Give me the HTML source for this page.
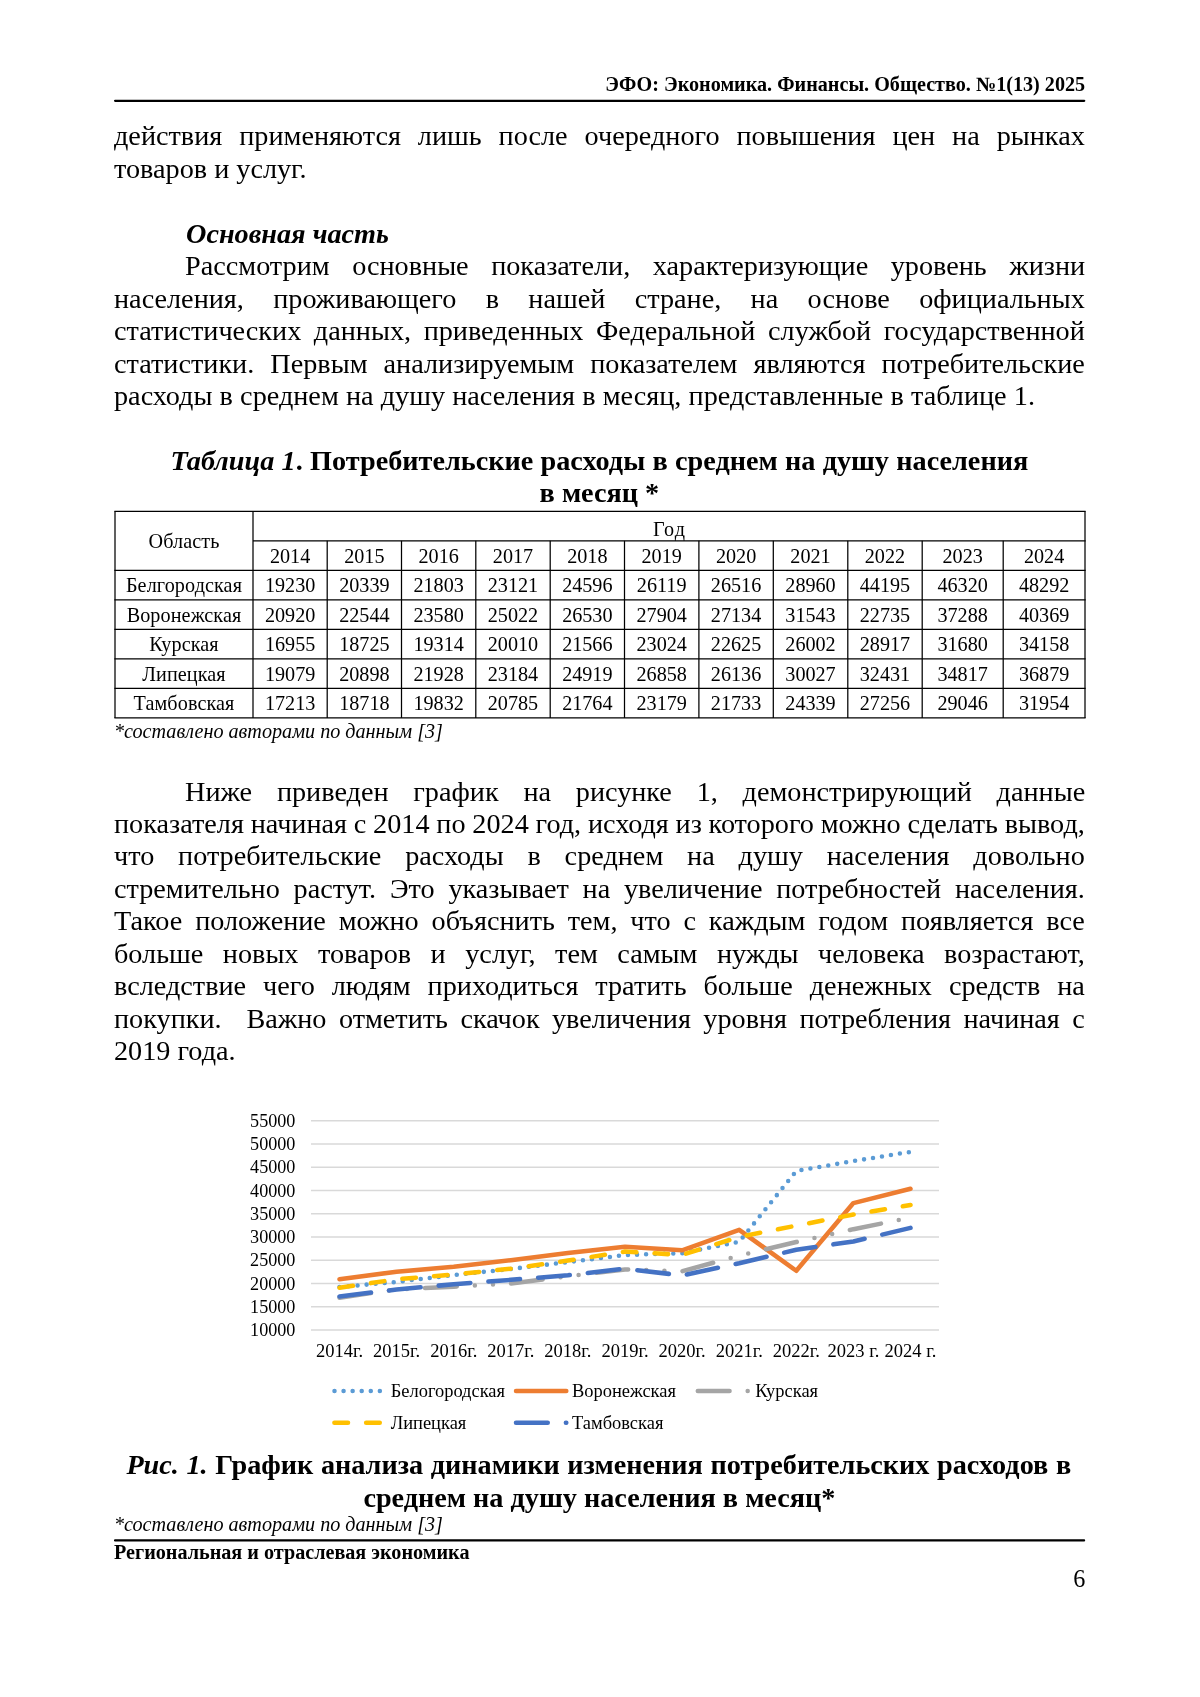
<!DOCTYPE html>
<html lang="ru"><head><meta charset="utf-8"><title>page</title>
<style>
html,body{margin:0;padding:0;background:#fff;}
body{width:1200px;height:1697px;position:relative;overflow:hidden;font-family:"Liberation Serif",serif;color:#000;}
.ln{position:absolute;white-space:nowrap;line-height:34px;height:34px;will-change:transform;}
.j{white-space:pre;}
.rule{position:absolute;background:#000;}
table{position:absolute;border-collapse:collapse;table-layout:fixed;will-change:transform;}
td{border:0;padding:1.2px 0 0 0;text-align:center;font-size:20.16px;line-height:22px;vertical-align:middle;overflow:hidden;white-space:nowrap;}
svg{position:absolute;left:0;top:0;will-change:transform;}
svg text{font-family:"Liberation Serif",serif;}
</style></head><body>
<div class="ln " style="top:67.20px;left:114.00px;width:971.20px;font-size:20.16px;text-align:right;font-weight:bold;">ЭФО: Экономика. Финансы. Общество. №1(13) 2025</div>
<div class="ln j" style="top:119.48px;left:114.00px;width:970.80px;font-size:28.22px;word-spacing:9.916px;">действия применяются лишь после очередного повышения цен на рынках</div>
<div class="ln " style="top:151.93px;left:114.00px;width:970.80px;font-size:28.22px;">товаров и услуг.</div>
<div class="ln " style="top:216.83px;left:186.10px;width:898.70px;font-size:28.22px;font-weight:bold;font-style:italic;">Основная часть</div>
<div class="ln j" style="top:249.28px;left:184.60px;width:900.20px;font-size:28.22px;word-spacing:15.493px;">Рассмотрим основные показатели, характеризующие уровень жизни</div>
<div class="ln j" style="top:281.73px;left:114.00px;width:970.80px;font-size:28.22px;word-spacing:22.324px;">населения, проживающего в нашей стране, на основе официальных</div>
<div class="ln j" style="top:314.18px;left:114.00px;width:970.80px;font-size:28.22px;word-spacing:5.532px;">статистических данных, приведенных Федеральной службой государственной</div>
<div class="ln j" style="top:346.63px;left:114.00px;width:970.80px;font-size:28.22px;word-spacing:9.035px;">статистики. Первым анализируемым показателем являются потребительские</div>
<div class="ln " style="top:379.08px;left:114.00px;width:970.80px;font-size:28.22px;word-spacing:0.12px;">расходы в среднем на душу населения в месяц, представленные в таблице 1.</div>
<div class="ln " style="top:443.98px;left:114.00px;width:970.80px;font-size:28.22px;text-align:center;font-weight:bold;word-spacing:0.25px;"><i>Таблица 1</i>. Потребительские расходы в среднем на душу населения</div>
<div class="ln " style="top:476.43px;left:114.00px;width:970.80px;font-size:28.22px;text-align:center;font-weight:bold;">в месяц *</div>
<table style="left:115.0px;top:511.3px;width:970.0px"><colgroup><col style="width:138.00px"><col style="width:74.20px"><col style="width:74.30px"><col style="width:74.30px"><col style="width:74.40px"><col style="width:74.30px"><col style="width:74.40px"><col style="width:74.40px"><col style="width:74.50px"><col style="width:74.40px"><col style="width:81.00px"><col style="width:81.80px"></colgroup>
<tr style="height:29.51px"><td rowspan="2" style="letter-spacing:0.1px">Область</td><td colspan="11"><span style="position:relative;top:3.1px;letter-spacing:1.3px;margin-right:-1.3px">Год</span></td></tr>
<tr style="height:29.51px"><td>2014</td><td>2015</td><td>2016</td><td>2017</td><td>2018</td><td>2019</td><td>2020</td><td>2021</td><td>2022</td><td>2023</td><td>2024</td></tr>
<tr style="height:29.51px"><td style="letter-spacing:0.1px">Белгородская</td><td>19230</td><td>20339</td><td>21803</td><td>23121</td><td>24596</td><td>26119</td><td>26516</td><td>28960</td><td>44195</td><td>46320</td><td>48292</td></tr>
<tr style="height:29.51px"><td style="letter-spacing:0.1px">Воронежская</td><td>20920</td><td>22544</td><td>23580</td><td>25022</td><td>26530</td><td>27904</td><td>27134</td><td>31543</td><td>22735</td><td>37288</td><td>40369</td></tr>
<tr style="height:29.51px"><td style="letter-spacing:0.1px">Курская</td><td>16955</td><td>18725</td><td>19314</td><td>20010</td><td>21566</td><td>23024</td><td>22625</td><td>26002</td><td>28917</td><td>31680</td><td>34158</td></tr>
<tr style="height:29.51px"><td style="letter-spacing:0.1px">Липецкая</td><td>19079</td><td>20898</td><td>21928</td><td>23184</td><td>24919</td><td>26858</td><td>26136</td><td>30027</td><td>32431</td><td>34817</td><td>36879</td></tr>
<tr style="height:29.51px"><td style="letter-spacing:0.1px">Тамбовская</td><td>17213</td><td>18718</td><td>19832</td><td>20785</td><td>21764</td><td>23179</td><td>21733</td><td>24339</td><td>27256</td><td>29046</td><td>31954</td></tr>
</table>
<div class="ln " style="top:714.20px;left:114.00px;width:970.80px;font-size:20.16px;font-style:italic;">*составлено авторами по данным [3]</div>
<div class="ln j" style="top:774.58px;left:184.60px;width:900.20px;font-size:28.22px;word-spacing:17.725px;">Ниже приведен график на рисунке 1, демонстрирующий данные</div>
<div class="ln j" style="top:807.03px;left:114.00px;width:970.80px;font-size:28.22px;word-spacing:-0.280px;">показателя начиная с 2014 по 2024 год, исходя из которого можно сделать вывод,</div>
<div class="ln j" style="top:839.48px;left:114.00px;width:970.80px;font-size:28.22px;word-spacing:16.774px;">что потребительские расходы в среднем на душу населения довольно</div>
<div class="ln j" style="top:871.93px;left:114.00px;width:970.80px;font-size:28.22px;word-spacing:6.748px;">стремительно растут. Это указывает на увеличение потребностей населения.</div>
<div class="ln j" style="top:904.38px;left:114.00px;width:970.80px;font-size:28.22px;word-spacing:5.808px;">Такое положение можно объяснить тем, что с каждым годом появляется все</div>
<div class="ln j" style="top:936.83px;left:114.00px;width:970.80px;font-size:28.22px;word-spacing:12.486px;">больше новых товаров и услуг, тем самым нужды человека возрастают,</div>
<div class="ln j" style="top:969.28px;left:114.00px;width:970.80px;font-size:28.22px;word-spacing:9.901px;">вследствие чего людям приходиться тратить больше денежных средств на</div>
<div class="ln j" style="top:1001.73px;left:114.00px;width:970.80px;font-size:28.22px;word-spacing:5.358px;">покупки.&nbsp; Важно отметить скачок увеличения уровня потребления начиная с</div>
<div class="ln " style="top:1034.18px;left:114.00px;width:970.80px;font-size:28.22px;">2019 года.</div>
<svg width="1200" height="1697" viewBox="0 0 1200 1697">
<g stroke="#000" stroke-width="1.25"><line x1="114.38" x2="1085.62" y1="511.30" y2="511.30"/><line x1="253.00" x2="1085.62" y1="540.81" y2="540.81"/><line x1="114.38" x2="1085.62" y1="570.33" y2="570.33"/><line x1="114.38" x2="1085.62" y1="599.84" y2="599.84"/><line x1="114.38" x2="1085.62" y1="629.36" y2="629.36"/><line x1="114.38" x2="1085.62" y1="658.87" y2="658.87"/><line x1="114.38" x2="1085.62" y1="688.38" y2="688.38"/><line x1="114.38" x2="1085.62" y1="717.90" y2="717.90"/><line x1="115.00" x2="115.00" y1="511.30" y2="717.90"/><line x1="253.00" x2="253.00" y1="511.30" y2="717.90"/><line x1="327.20" x2="327.20" y1="540.81" y2="717.90"/><line x1="401.50" x2="401.50" y1="540.81" y2="717.90"/><line x1="475.80" x2="475.80" y1="540.81" y2="717.90"/><line x1="550.20" x2="550.20" y1="540.81" y2="717.90"/><line x1="624.50" x2="624.50" y1="540.81" y2="717.90"/><line x1="698.90" x2="698.90" y1="540.81" y2="717.90"/><line x1="773.30" x2="773.30" y1="540.81" y2="717.90"/><line x1="847.80" x2="847.80" y1="540.81" y2="717.90"/><line x1="922.20" x2="922.20" y1="540.81" y2="717.90"/><line x1="1003.20" x2="1003.20" y1="540.81" y2="717.90"/><line x1="1085.00" x2="1085.00" y1="511.30" y2="717.90"/></g>
<g stroke="#000" stroke-width="2.3" stroke-linecap="round"><line x1="115.1" x2="1084.2" y1="100.8" y2="100.8"/><line x1="115.1" x2="1084.05" y1="1540.4" y2="1540.4"/></g>
<line x1="311" x2="939" y1="1330.00" y2="1330.00" stroke="#d9d9d9" stroke-width="1.5"/>
<text x="295.4" y="1336.20" font-size="18.14" text-anchor="end">10000</text>
<line x1="311" x2="939" y1="1306.74" y2="1306.74" stroke="#d9d9d9" stroke-width="1.5"/>
<text x="295.4" y="1312.94" font-size="18.14" text-anchor="end">15000</text>
<line x1="311" x2="939" y1="1283.49" y2="1283.49" stroke="#d9d9d9" stroke-width="1.5"/>
<text x="295.4" y="1289.69" font-size="18.14" text-anchor="end">20000</text>
<line x1="311" x2="939" y1="1260.23" y2="1260.23" stroke="#d9d9d9" stroke-width="1.5"/>
<text x="295.4" y="1266.43" font-size="18.14" text-anchor="end">25000</text>
<line x1="311" x2="939" y1="1236.98" y2="1236.98" stroke="#d9d9d9" stroke-width="1.5"/>
<text x="295.4" y="1243.18" font-size="18.14" text-anchor="end">30000</text>
<line x1="311" x2="939" y1="1213.72" y2="1213.72" stroke="#d9d9d9" stroke-width="1.5"/>
<text x="295.4" y="1219.92" font-size="18.14" text-anchor="end">35000</text>
<line x1="311" x2="939" y1="1190.47" y2="1190.47" stroke="#d9d9d9" stroke-width="1.5"/>
<text x="295.4" y="1196.67" font-size="18.14" text-anchor="end">40000</text>
<line x1="311" x2="939" y1="1167.21" y2="1167.21" stroke="#d9d9d9" stroke-width="1.5"/>
<text x="295.4" y="1173.41" font-size="18.14" text-anchor="end">45000</text>
<line x1="311" x2="939" y1="1143.96" y2="1143.96" stroke="#d9d9d9" stroke-width="1.5"/>
<text x="295.4" y="1150.16" font-size="18.14" text-anchor="end">50000</text>
<line x1="311" x2="939" y1="1120.70" y2="1120.70" stroke="#d9d9d9" stroke-width="1.5"/>
<text x="295.4" y="1126.90" font-size="18.14" text-anchor="end">55000</text>
<text x="339.50" y="1357.3" font-size="18.5" text-anchor="middle">2014г.</text>
<text x="396.60" y="1357.3" font-size="18.5" text-anchor="middle">2015г.</text>
<text x="453.70" y="1357.3" font-size="18.5" text-anchor="middle">2016г.</text>
<text x="510.80" y="1357.3" font-size="18.5" text-anchor="middle">2017г.</text>
<text x="567.90" y="1357.3" font-size="18.5" text-anchor="middle">2018г.</text>
<text x="625.00" y="1357.3" font-size="18.5" text-anchor="middle">2019г.</text>
<text x="682.10" y="1357.3" font-size="18.5" text-anchor="middle">2020г.</text>
<text x="739.20" y="1357.3" font-size="18.5" text-anchor="middle">2021г.</text>
<text x="796.30" y="1357.3" font-size="18.5" text-anchor="middle">2022г.</text>
<text x="853.40" y="1357.3" font-size="18.5" text-anchor="middle">2023 г.</text>
<text x="910.50" y="1357.3" font-size="18.5" text-anchor="middle">2024 г.</text>
<polyline points="339.50,1287.07 396.60,1281.91 453.70,1275.10 510.80,1268.97 567.90,1262.11 625.00,1255.03 682.10,1253.18 739.20,1241.82 796.30,1170.96 853.40,1161.07 910.50,1151.90" fill="none" stroke="#5b9bd5" stroke-width="4.5355" stroke-linecap="round" stroke-linejoin="round" stroke-dasharray="0 9.071"/>
<polyline points="339.50,1279.21 396.60,1271.66 453.70,1266.84 510.80,1260.13 567.90,1253.12 625.00,1246.73 682.10,1250.31 739.20,1229.80 796.30,1270.77 853.40,1203.08 910.50,1188.75" fill="none" stroke="#ed7d31" stroke-width="4.5355" stroke-linecap="round" stroke-linejoin="round"/>
<polyline points="339.50,1297.65 396.60,1289.42 453.70,1286.68 510.80,1283.44 567.90,1276.21 625.00,1269.42 682.10,1271.28 739.20,1255.57 796.30,1242.02 853.40,1229.16 910.50,1217.64" fill="none" stroke="#a5a5a5" stroke-width="4.5355" stroke-linecap="round" stroke-linejoin="round" stroke-dasharray="31.7485 18.142 0 18.142 0 18.142"/>
<polyline points="339.50,1287.77 396.60,1279.31 453.70,1274.52 510.80,1268.68 567.90,1260.61 625.00,1251.59 682.10,1254.95 739.20,1236.85 796.30,1225.67 853.40,1214.57 910.50,1204.98" fill="none" stroke="#ffc000" stroke-width="4.5355" stroke-linecap="round" stroke-linejoin="round" stroke-dasharray="13.6065 18.142"/>
<polyline points="339.50,1296.45 396.60,1289.45 453.70,1284.27 510.80,1279.84 567.90,1275.28 625.00,1268.70 682.10,1275.43 739.20,1263.31 796.30,1249.74 853.40,1241.42 910.50,1227.89" fill="none" stroke="#4472c4" stroke-width="4.5355" stroke-linecap="round" stroke-linejoin="round" stroke-dasharray="31.7485 18.142"/>
<line x1="334.5" x2="384.8" y1="1390.9" y2="1390.9" stroke="#5b9bd5" stroke-width="4.5355" stroke-linecap="round" stroke-dasharray="0 9.071"/>
<text x="390.7" y="1397.10" font-size="18.45">Белогородская</text>
<line x1="516" x2="566.3" y1="1390.9" y2="1390.9" stroke="#ed7d31" stroke-width="4.5355" stroke-linecap="round"/>
<text x="572.0" y="1397.10" font-size="18.45">Воронежская</text>
<line x1="697.8" x2="748.0999999999999" y1="1390.9" y2="1390.9" stroke="#a5a5a5" stroke-width="4.5355" stroke-linecap="round" stroke-dasharray="31.7485 18.142 0 18.142 0 18.142"/>
<text x="755.2" y="1397.10" font-size="18.45">Курская</text>
<line x1="334.4" x2="384.7" y1="1422.8" y2="1422.8" stroke="#ffc000" stroke-width="4.5355" stroke-linecap="round" stroke-dasharray="13.6065 18.142"/>
<text x="390.7" y="1428.60" font-size="18.45">Липецкая</text>
<line x1="516" x2="566.3" y1="1422.8" y2="1422.8" stroke="#4472c4" stroke-width="4.5355" stroke-linecap="round" stroke-dasharray="31.7485 18.142"/>
<text x="572.0" y="1428.60" font-size="18.45">Тамбовская</text>
</svg>
<div class="ln " style="top:1448.38px;left:113.30px;width:971.50px;font-size:28.22px;text-align:center;font-weight:bold;word-spacing:0.55px;"><i>Рис. 1.</i> График анализа динамики изменения потребительских расходов в</div>
<div class="ln " style="top:1480.88px;left:114.00px;width:970.80px;font-size:28.22px;text-align:center;font-weight:bold;">среднем на душу населения в месяц*</div>
<div class="ln " style="top:1507.40px;left:114.00px;width:970.80px;font-size:20.16px;font-style:italic;">*составлено авторами по данным [3]</div>
<div class="ln " style="top:1535.20px;left:114.00px;width:970.80px;font-size:20.16px;font-weight:bold;">Региональная и отраслевая экономика</div>
<div class="ln " style="top:1561.53px;left:114.00px;width:971.40px;font-size:24.2px;text-align:right;">6</div>
</body></html>
